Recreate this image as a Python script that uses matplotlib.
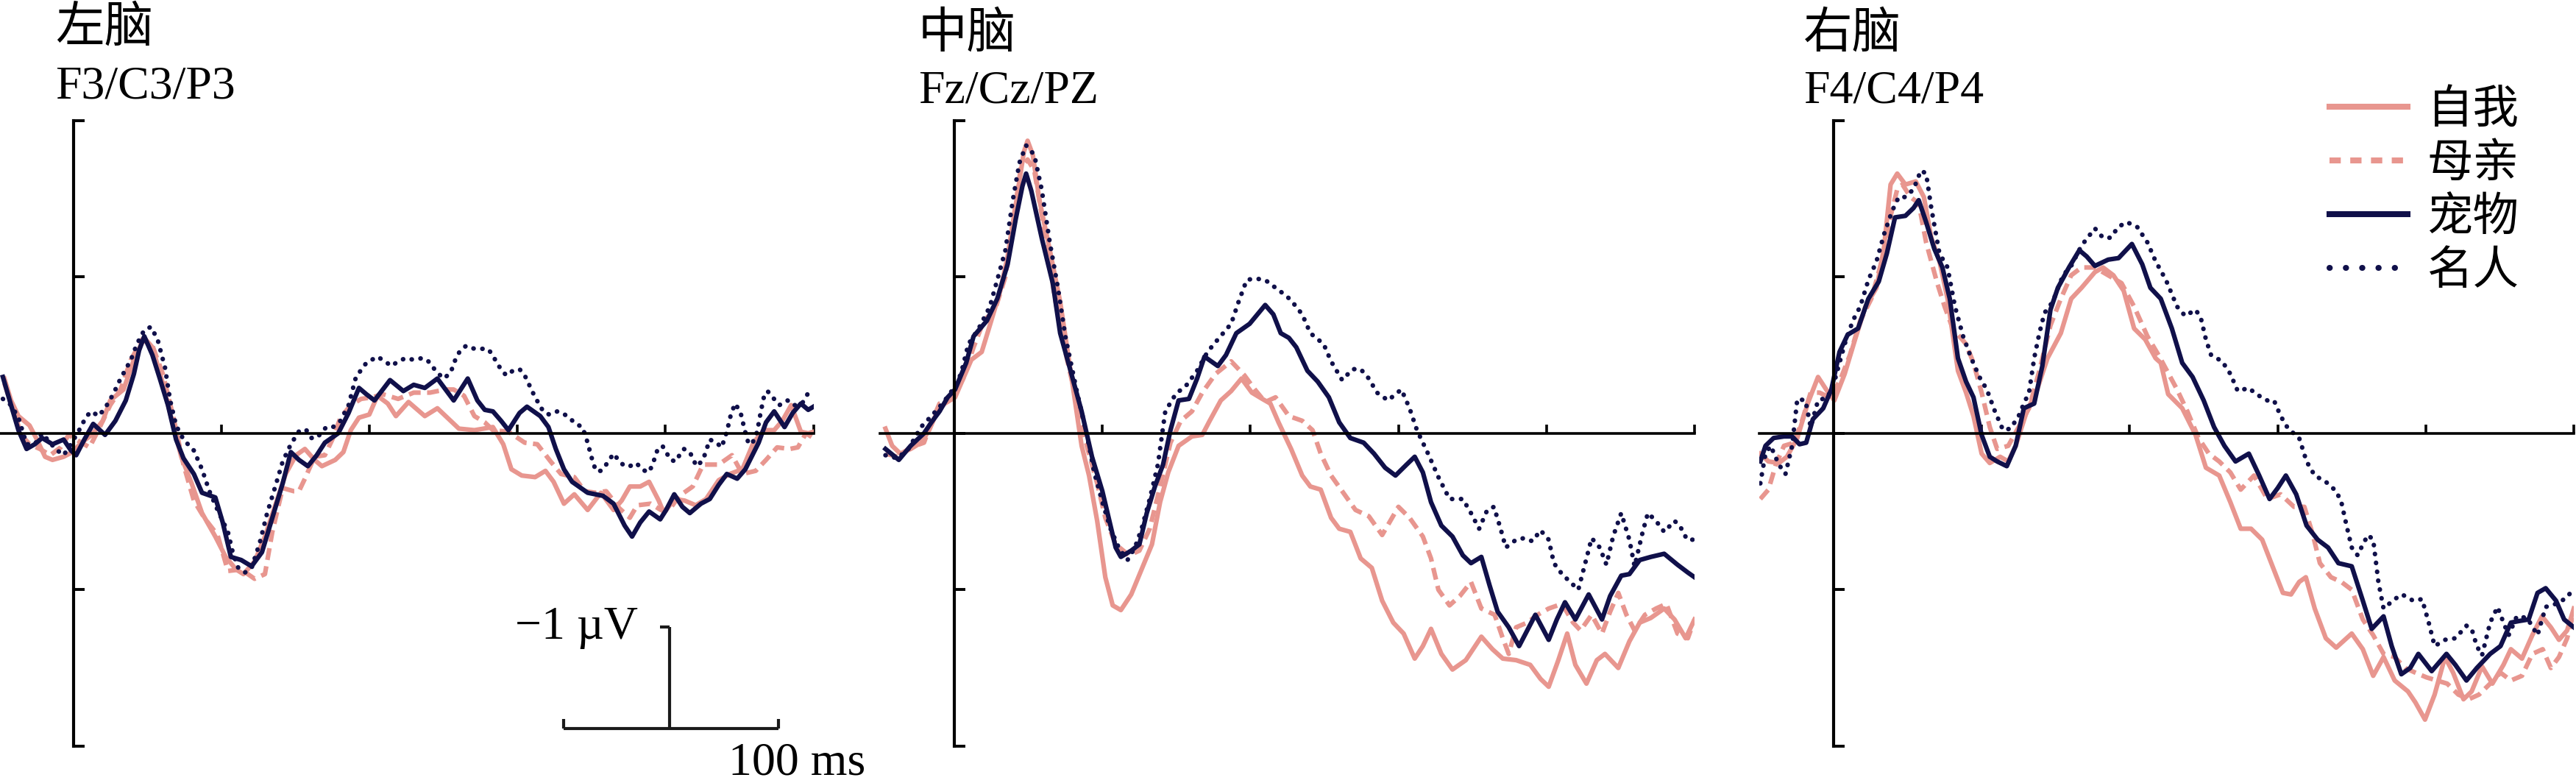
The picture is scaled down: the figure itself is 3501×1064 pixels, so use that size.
import matplotlib.pyplot as plt
from matplotlib.lines import Line2D

plt.rcParams['font.family'] = ['Liberation Serif', 'Noto Sans CJK SC']

# --- ERP waveforms (time in ms, amplitude in axis-tick units)
conditions = ["自我", "母亲", "宠物", "名人"]
regions = ["左脑", "中脑", "右脑"]
electrodes = ["F3/C3/P3", "Fz/Cz/PZ", "F4/C4/P4"]
x_ticks = [200, 400, 600, 800, 1000]
y_ticks = [-2, -1, 0, 1, 2]

# left hemisphere
left_self_t = [-93, -84, -74, -59, -49, -38, -28, -13, -1, 11, 25, 40, 50, 68, 82, 96, 107, 121, 135, 146,
               160, 174, 192, 206, 220, 230, 245, 259, 273, 287, 301, 313, 326, 336, 354, 365, 375, 386, 400, 411,
               425, 436, 453, 475, 492, 521, 542, 567, 581, 592, 606, 624, 638, 649, 663, 677, 695, 713, 730, 741,
               752, 766, 778, 791, 798, 812, 826, 841, 855, 872, 887, 904, 919, 933, 947, 958, 970, 983, 993, 1000]
left_self_v = [0.35, 0.21, 0.11, 0.05, -0.04, -0.15, -0.17, -0.15, -0.12, -0.06, -0.01, 0.08, 0.21, 0.28, 0.47, 0.61, 0.55, 0.32, 0.05, -0.15,
               -0.32, -0.51, -0.66, -0.79, -0.87, -0.90, -0.82, -0.66, -0.46, -0.26, -0.14, -0.10, -0.17, -0.21, -0.17, -0.12, 0.02, 0.10, 0.12, 0.24,
               0.19, 0.11, 0.20, 0.11, 0.16, 0.03, 0.02, 0.04, -0.07, -0.23, -0.27, -0.28, -0.24, -0.31, -0.45, -0.39, -0.49, -0.38, -0.49, -0.43,
               -0.34, -0.34, -0.31, -0.43, -0.51, -0.42, -0.43, -0.46, -0.42, -0.30, -0.26, -0.23, -0.06, 0.02, 0.02, 0.08, 0.18, 0.01, 0.00, 0.01]
left_mother_t = [-93, -84, -70, -59, -45, -31, -17, -6, 4, 22, 36, 50, 64, 78, 93, 107, 121, 135, 149, 163,
                 177, 195, 209, 227, 245, 259, 269, 283, 298, 305, 313, 326, 340, 351, 361, 375, 389, 404, 418, 439,
                 460, 482, 503, 514, 528, 542, 556, 567, 588, 610, 627, 645, 659, 677, 691, 706, 720, 738, 752, 762,
                 780, 794, 805, 819, 837, 851, 872, 890, 904, 922, 936, 951, 968, 979, 990, 1000]
left_mother_v = [0.32, 0.19, -0.01, -0.07, -0.10, -0.14, -0.09, -0.01, -0.04, -0.09, 0.04, 0.18, 0.28, 0.47, 0.60, 0.56, 0.38, 0.11, -0.20, -0.43,
                 -0.54, -0.65, -0.88, -0.87, -0.93, -0.90, -0.63, -0.35, -0.37, -0.37, -0.29, -0.15, -0.14, -0.03, 0.10, 0.18, 0.22, 0.23, 0.25, 0.22,
                 0.26, 0.26, 0.28, 0.28, 0.24, 0.11, 0.07, 0.02, 0.01, -0.06, -0.07, -0.18, -0.26, -0.28, -0.37, -0.38, -0.37, -0.48, -0.54, -0.46,
                 -0.45, -0.49, -0.49, -0.40, -0.34, -0.20, -0.20, -0.14, -0.26, -0.24, -0.17, -0.09, -0.10, -0.09, 0.00, -0.03]
left_pet_t = [-95, -84, -74, -63, -52, -42, -28, -13, -3, 4, 15, 27, 43, 57, 71, 82, 89, 96, 107, 117,
              128, 139, 149, 163, 174, 192, 202, 213, 227, 241, 255, 269, 283, 294, 305, 317, 329, 340, 358, 372,
              386, 396, 407, 428, 446, 460, 475, 492, 514, 533, 546, 556, 567, 578, 588, 603, 613, 631, 642, 652,
              663, 674, 695, 716, 730, 745, 755, 766, 778, 793, 801, 812, 823, 833, 848, 860, 872, 883, 897, 908,
              926, 936, 947, 961, 972, 983, 993, 1000]
left_pet_v = [0.36, 0.18, 0.02, -0.10, -0.07, -0.03, -0.07, -0.04, -0.11, -0.14, -0.04, 0.06, -0.01, 0.08, 0.21, 0.38, 0.53, 0.62, 0.50, 0.35,
              0.18, -0.04, -0.16, -0.26, -0.38, -0.41, -0.57, -0.79, -0.81, -0.85, -0.76, -0.54, -0.32, -0.12, -0.17, -0.21, -0.14, -0.06, 0.00, 0.13,
              0.29, 0.25, 0.21, 0.34, 0.27, 0.31, 0.29, 0.35, 0.21, 0.35, 0.21, 0.15, 0.14, 0.08, 0.02, 0.13, 0.17, 0.11, 0.04, -0.10,
              -0.23, -0.31, -0.38, -0.40, -0.45, -0.59, -0.66, -0.57, -0.50, -0.55, -0.49, -0.39, -0.47, -0.51, -0.45, -0.42, -0.33, -0.26, -0.29, -0.23,
              -0.06, 0.07, 0.14, 0.04, 0.13, 0.19, 0.15, 0.17]
left_celeb_t = [-95, -84, -74, -63, -52, -42, -24, -13, -3, 8, 18, 25, 34, 43, 54, 64, 78, 86, 96, 105,
                114, 124, 131, 139, 149, 163, 174, 184, 195, 209, 216, 223, 232, 241, 252, 262, 273, 283, 294, 306,
                315, 322, 329, 342, 351, 361, 372, 382, 396, 411, 421, 430, 439, 449,
                460, 471, 478, 485, 491, 501, 510, 517, 523, 531, 542, 560, 567, 572, 578, 585, 594, 603, 610, 615,
                620, 624, 629, 635, 643, 654, 661, 670, 679, 688, 695, 700, 706, 713, 720, 730, 738, 745, 752, 761,
                768, 777, 782, 789, 796, 801, 807, 814, 819, 825, 833, 837, 842, 849, 853, 860, 869, 876, 883, 888,
                894, 901, 904, 906, 912, 917, 924, 929, 933, 938, 945, 954, 965, 972, 981, 986, 992, 995]
left_celeb_v = [0.22, 0.18, 0.10, -0.07, -0.07, 0.00, -0.10, -0.14, -0.07, 0.02, 0.11, 0.14, 0.11, 0.16, 0.25, 0.35, 0.47, 0.57, 0.66, 0.68,
                0.60, 0.42, 0.21, 0.05, -0.04, -0.11, -0.23, -0.37, -0.49, -0.63, -0.77, -0.86, -0.89, -0.86, -0.70, -0.51, -0.34, -0.18, -0.07, 0.02,
                0.02, -0.03, -0.03, 0.04, 0.04, 0.08, 0.18, 0.36, 0.45, 0.49, 0.46, 0.43, 0.46, 0.48,
                0.47, 0.48, 0.47, 0.43, 0.39, 0.35, 0.39, 0.48, 0.53, 0.56, 0.54, 0.54, 0.50, 0.45, 0.41, 0.37, 0.40, 0.41, 0.37, 0.32,
                0.27, 0.23, 0.19, 0.14, 0.12, 0.14, 0.13, 0.10, 0.06, 0.04, -0.06, -0.15, -0.24, -0.24, -0.20, -0.13, -0.18, -0.21, -0.21, -0.19,
                -0.23, -0.25, -0.21, -0.11, -0.08, -0.12, -0.17, -0.18, -0.14, -0.10, -0.12, -0.16, -0.21, -0.18, -0.14, -0.04, -0.06, -0.09, 0.01, 0.11,
                0.19, 0.14, 0.09, 0.04, -0.06, -0.07, 0.01, 0.14, 0.23, 0.27, 0.23, 0.18, 0.21, 0.18, 0.18, 0.20, 0.25, 0.29]

# midline
mid_self_t = [-93, -84, -73, -59, -45, -34, -23, -13, 1, 12, 23, 37, 48, 62, 72, 83, 94, 99, 106, 115,
              129, 143, 157, 172, 182, 193, 204, 214, 225, 239, 253, 267, 278, 289, 303, 321, 335, 345, 360, 374,
              388, 402, 416, 427, 438,
              455, 470, 481, 495, 509, 520, 535, 549, 564, 578, 593, 607, 622, 633, 644, 658, 673, 691, 712, 727,
              741, 759, 778, 792, 803, 816, 828, 839, 854, 868, 879, 897, 912, 926, 941, 959, 973, 988, 1000]
mid_self_v = [0.03, -0.08, -0.13, -0.10, -0.06, 0.02, 0.14, 0.19, 0.23, 0.35, 0.47, 0.52, 0.69, 0.91, 1.13, 1.46, 1.80, 1.87, 1.78, 1.49,
              1.17, 0.84, 0.40, -0.08, -0.27, -0.56, -0.92, -1.10, -1.13, -1.03, -0.87, -0.71, -0.44, -0.25, -0.08, -0.02, -0.01, 0.08, 0.21, 0.27,
              0.35, 0.26, 0.22, 0.19, 0.07,
              -0.10, -0.27, -0.34, -0.36, -0.54, -0.61, -0.63, -0.80, -0.86, -1.07, -1.21, -1.28, -1.44, -1.36, -1.25, -1.41, -1.51, -1.45, -1.30, -1.38,
              -1.44, -1.45, -1.48, -1.57, -1.62, -1.45, -1.28, -1.48, -1.60, -1.45, -1.41, -1.50, -1.33, -1.21, -1.18, -1.12, -1.19, -1.31, -1.19]
mid_mother_t = [-93, -77, -59, -41, -31, -20, -2, 12, 26, 40, 55, 69, 79, 90, 99, 108, 122, 136, 150, 165,
                179, 193, 204, 218, 236, 250, 264, 278, 292, 306, 321, 335, 353, 374, 392, 406, 420, 434,
                452, 470, 484, 495, 509, 524, 542, 560, 578, 589, 600, 615, 633, 644, 654, 669, 683, 698, 712, 730,
                741, 749, 759, 774, 788, 803, 821, 836, 846, 861, 875, 886, 897, 908, 919, 933, 948, 962, 977, 991, 1000]
mid_mother_v = [-0.13, -0.15, -0.09, -0.06, 0.07, 0.19, 0.23, 0.35, 0.55, 0.72, 0.79, 1.00, 1.34, 1.70, 1.75, 1.68, 1.29, 0.86, 0.52, 0.21,
                -0.08, -0.32, -0.54, -0.71, -0.78, -0.75, -0.61, -0.34, -0.06, 0.08, 0.14, 0.26, 0.38, 0.46, 0.37, 0.28, 0.20, 0.23,
                0.11, 0.08, 0.02, -0.13, -0.27, -0.37, -0.49, -0.53, -0.65, -0.56, -0.47, -0.54, -0.66, -0.80, -1.00, -1.10, -1.04, -0.95, -1.12, -1.16,
                -1.31, -1.41, -1.24, -1.21, -1.16, -1.12, -1.09, -1.21, -1.26, -1.16, -1.28, -1.14, -1.02, -1.16, -1.26, -1.16, -1.12, -1.09, -1.28, -1.31, -1.19]
mid_pet_t = [-93, -75, -59, -41, -31, -20, -9, 1, 16, 26, 44, 58, 72, 83, 92, 97, 104, 118, 133, 143,
             157, 172, 186, 200, 211, 218, 225, 239, 250, 260, 271, 282, 292, 303, 317, 328, 338, 356, 367, 381,
             399, 420, 431, 441,
             452, 462, 477, 491, 506, 520, 535, 553, 567, 582, 596, 611, 622, 633, 644, 658, 673, 687, 698, 712,
             723, 734, 749, 763, 774, 785, 803, 814, 825, 839, 857, 875, 886, 901, 912, 926, 941, 959, 977, 991, 1000]
mid_pet_v = [-0.10, -0.17, -0.08, 0.00, 0.07, 0.14, 0.23, 0.28, 0.45, 0.62, 0.72, 0.86, 1.08, 1.37, 1.58, 1.66, 1.55, 1.25, 0.96, 0.64,
             0.40, 0.14, -0.15, -0.37, -0.59, -0.73, -0.79, -0.75, -0.71, -0.51, -0.34, -0.20, 0.02, 0.21, 0.22, 0.35, 0.49, 0.43, 0.50, 0.64,
             0.70, 0.82, 0.76, 0.64,
             0.61, 0.55, 0.40, 0.33, 0.23, 0.07, -0.03, -0.06, -0.13, -0.22, -0.27, -0.20, -0.15, -0.25, -0.44, -0.59, -0.66, -0.78, -0.83, -0.79,
             -0.97, -1.14, -1.24, -1.36, -1.26, -1.16, -1.32, -1.19, -1.08, -1.19, -1.03, -1.19, -1.04, -0.91, -0.90, -0.81, -0.79, -0.77, -0.84, -0.89, -0.92]
mid_celeb_t = [-93, -77, -62, -45, -31, -16, -2, 9, 19, 33, 48, 58, 69, 79, 88, 97, 108, 118, 129, 140,
               150, 165, 179, 189, 200, 211, 223, 234, 244, 253, 264, 275, 285, 299, 314, 328, 342, 356, 374, 384,
               395, 406, 420, 434, 448,
               455, 470, 481, 499, 509, 524, 538, 549, 560, 571, 586, 596, 604, 615, 625, 640, 654, 669, 687, 698,
               709, 720, 729, 738, 745, 759, 770, 781, 792, 803, 810, 821, 832, 843, 854, 861, 872, 881, 890, 901,
               912, 919, 930, 937, 948, 959, 973, 980, 990, 1000]
mid_celeb_v = [-0.14, -0.16, -0.10, 0.04, 0.11, 0.19, 0.28, 0.38, 0.57, 0.67, 0.81, 0.98, 1.17, 1.49, 1.73, 1.84, 1.78, 1.56, 1.22, 0.93,
               0.62, 0.28, -0.01, -0.25, -0.44, -0.61, -0.74, -0.81, -0.73, -0.61, -0.42, -0.20, 0.14, 0.25, 0.31, 0.40, 0.52, 0.60, 0.70, 0.84,
               0.98, 0.99, 0.98, 0.93, 0.88,
               0.85, 0.76, 0.64, 0.57, 0.46, 0.34, 0.41, 0.41, 0.35, 0.26, 0.21, 0.25, 0.28, 0.16, 0.02, -0.13, -0.28, -0.42, -0.42, -0.51,
               -0.61, -0.49, -0.47, -0.61, -0.73, -0.68, -0.67, -0.69, -0.62, -0.68, -0.83, -0.90, -0.95, -1.00, -0.80, -0.67, -0.73, -0.84, -0.66, -0.51,
               -0.68, -0.85, -0.63, -0.51, -0.56, -0.63, -0.56, -0.59, -0.68, -0.68]

# right hemisphere
right_self_t = [-99, -88, -74, -63, -49, -35, -21, -10, 1, 15, 29, 43, 58, 68, 77, 86, 97, 111, 122, 132,
                143, 154, 168, 179, 189, 200, 211, 225, 236, 246, 261, 275, 289, 307, 321, 335, 353, 364, 378, 392,
                406, 421, 435, 442, 452, 471, 489, 503, 521, 536, 550, 564, 579, 593, 607, 618, 629, 638, 650, 665,
                679, 693, 700, 715, 729, 743, 758, 776, 786, 799, 812, 826, 837, 851, 862, 876, 890, 905, 915, 930,
                944, 957, 969, 980, 991, 1000]
right_self_v = [-0.13, -0.18, -0.19, -0.15, -0.03, 0.19, 0.36, 0.28, 0.21, 0.38, 0.60, 0.81, 0.93, 1.18, 1.59, 1.66, 1.59, 1.61, 1.51, 1.25,
                1.10, 0.86, 0.40, 0.26, 0.11, -0.13, -0.19, -0.15, -0.18, -0.08, 0.14, 0.28, 0.48, 0.64, 0.86, 0.93, 1.03, 1.06, 1.01, 0.91,
                0.67, 0.60, 0.48, 0.45, 0.25, 0.16, -0.01, -0.22, -0.27, -0.44, -0.61, -0.61, -0.68, -0.85, -1.02, -1.03, -0.95, -0.92, -1.12, -1.31,
                -1.37, -1.31, -1.28, -1.38, -1.55, -1.43, -1.58, -1.65, -1.72, -1.83, -1.67, -1.43, -1.53, -1.70, -1.65, -1.49, -1.60, -1.48, -1.38, -1.44,
                -1.29, -1.17, -1.24, -1.32, -1.26, -1.12]
right_mother_t = [-99, -88, -78, -67, -53, -42, -31, -19, -6, 8, 22, 36, 51, 65, 75, 86, 93, 104, 115, 125,
                  140, 150, 161, 179, 189, 200, 211, 221, 236, 250, 264, 278, 293, 307, 321, 335, 353, 371, 389, 406,
                  424, 439, 464, 478, 493, 507, 521, 536, 550, 568, 586, 604, 622, 636, 647, 657, 672, 686, 700, 715,
                  729, 743, 758, 772, 786, 801, 815, 829, 844, 858, 872, 887, 901, 915, 930, 944, 958, 969, 980, 991, 1000]
right_mother_v = [-0.42, -0.36, -0.20, -0.08, -0.06, 0.09, 0.26, 0.26, 0.23, 0.33, 0.50, 0.72, 0.86, 1.10, 1.35, 1.56, 1.59, 1.51, 1.47, 1.22,
                  0.96, 0.81, 0.67, 0.57, 0.45, 0.26, 0.04, -0.10, -0.08, 0.04, 0.16, 0.40, 0.69, 0.86, 1.01, 1.06, 1.06, 1.01, 0.96, 0.81,
                  0.62, 0.50, 0.28, 0.14, -0.03, -0.13, -0.18, -0.25, -0.36, -0.27, -0.42, -0.39, -0.47, -0.47, -0.64, -0.83, -0.92, -0.95, -1.00, -1.19,
                  -1.29, -1.41, -1.43, -1.50, -1.53, -1.56, -1.58, -1.60, -1.67, -1.70, -1.67, -1.60, -1.53, -1.58, -1.55, -1.41, -1.38, -1.50, -1.43, -1.31, -1.14]
right_pet_t = [-99, -92, -81, -67, -56, -46, -37, -28, -14, -3, 8, 19, 33, 47, 61, 72, 83, 97, 108, 115,
               125, 136, 147, 157, 168, 179, 189, 200, 211, 221, 234, 246, 257, 271, 282, 293, 303, 318, 332, 342,
               353, 371, 385, 403, 417, 428, 442,
               457, 471, 485, 500, 514, 528, 543, 561, 575, 589, 600, 611, 625, 639, 654, 668, 682, 700, 715, 727,
               743, 754, 767, 779, 790, 808, 828, 840, 855, 869, 887, 901, 915, 926, 939, 951, 962, 976, 987, 1000]
right_pet_v = [-0.18, -0.08, -0.03, -0.02, -0.02, -0.07, -0.06, 0.09, 0.16, 0.28, 0.52, 0.63, 0.67, 0.86, 0.97, 1.15, 1.38, 1.39, 1.44, 1.49,
               1.35, 1.18, 1.06, 0.86, 0.48, 0.33, 0.23, -0.01, -0.15, -0.18, -0.21, -0.08, 0.16, 0.19, 0.43, 0.79, 0.93, 1.06, 1.17, 1.13,
               1.07, 1.11, 1.12, 1.21, 1.08, 0.93, 0.86,
               0.67, 0.45, 0.36, 0.21, 0.04, -0.08, -0.18, -0.13, -0.27, -0.42, -0.35, -0.27, -0.39, -0.59, -0.68, -0.73, -0.83, -0.85, -1.07, -1.25,
               -1.17, -1.36, -1.54, -1.50, -1.41, -1.52, -1.41, -1.48, -1.58, -1.50, -1.41, -1.36, -1.21, -1.20, -1.19, -1.02, -0.99, -1.07, -1.19, -1.24]
right_celeb_t = [-99, -92, -85, -74, -65, -56, -49, -38, -31, -21, -8, 1, 15, 26, 36, 47, 58, 68, 79, 88,
                 97, 108, 118, 125, 132, 143, 154, 164, 175, 186, 197, 207, 218, 229, 239, 250, 257, 264, 271, 278,
                 285, 296, 310, 321, 335, 353, 364, 374, 385, 396, 410, 424, 435, 449,
                 464, 475, 489, 496, 503, 510, 525, 536, 546, 561, 571, 586, 595, 604, 614, 629, 639, 650, 665, 679,
                 686, 693, 700, 708, 715, 722, 729, 736, 743, 758, 768, 783, 795, 804, 812, 826, 840, 855, 862, 869,
                 876, 887, 897, 905, 912, 923, 937, 951, 962, 976, 991, 998]
right_celeb_v = [-0.32, -0.13, -0.08, -0.20, -0.26, -0.08, 0.22, 0.21, 0.04, 0.21, 0.23, 0.33, 0.57, 0.72, 0.81, 0.98, 1.10, 1.27, 1.42, 1.51,
                 1.51, 1.56, 1.68, 1.66, 1.44, 1.15, 1.06, 0.81, 0.62, 0.48, 0.36, 0.28, 0.14, 0.02, 0.03, 0.11, 0.19, 0.26, 0.48, 0.64,
                 0.77, 0.84, 1.01, 1.07, 1.20, 1.31, 1.25, 1.25, 1.32, 1.35, 1.32, 1.22, 1.10, 0.98,
                 0.81, 0.75, 0.79, 0.74, 0.60, 0.50, 0.46, 0.38, 0.27, 0.29, 0.25, 0.21, 0.21, 0.11, 0.03, -0.03, -0.18, -0.27, -0.31, -0.37,
                 -0.44, -0.59, -0.73, -0.78, -0.71, -0.65, -0.68, -0.95, -1.12, -1.06, -1.03, -1.07, -1.06, -1.21, -1.36, -1.32, -1.31, -1.23, -1.25, -1.36,
                 -1.42, -1.21, -1.11, -1.21, -1.29, -1.17, -1.18, -1.29, -1.11, -1.09, -1.05, -1.00]

PINK = "#E8968F"
NAVY = "#10104A"
line_styles = [
    dict(color=PINK, linestyle="-"),
    dict(color=PINK, linestyle=(0, (2.6, 1.4))),
    dict(color=NAVY, linestyle="-"),
    dict(color=NAVY, linestyle=(0, (0.05, 1.9)), dash_capstyle="round"),
]
# legend keys are drawn a bit heavier than the curves in the original
legend_styles = [
    dict(color=PINK, linestyle="-"),
    dict(color=PINK, linestyle=(0, (1.9, 1.6))),
    dict(color=NAVY, linestyle="-"),
    dict(color=NAVY, linestyle=(0, (0.05, 2.7)), dash_capstyle="round"),
]

panels = [
    [(left_self_t, left_self_v), (left_mother_t, left_mother_v), (left_pet_t, left_pet_v), (left_celeb_t, left_celeb_v)],
    [(mid_self_t, mid_self_v), (mid_mother_t, mid_mother_v), (mid_pet_t, mid_pet_v), (mid_celeb_t, mid_celeb_v)],
    [(right_self_t, right_self_v), (right_mother_t, right_mother_v), (right_pet_t, right_pet_v), (right_celeb_t, right_celeb_v)],
]

W, H = 3501, 1064
fig = plt.figure(figsize=(W / 100, H / 100), dpi=100)

px_per_ms = 1.006
zero_px = [99.5, 1297, 2492]          # x pixel of t = 0 in each panel
title_px = [(75, 57, 133), (1248, 65, 140), (2451, 65, 140)]
ax_bottom, ax_height = 50, 850.4

axes = []
for i, series in enumerate(panels):
    left = zero_px[i] - 100 * px_per_ms
    ax = fig.add_axes([left / W, ax_bottom / H, 1100 * px_per_ms / W, ax_height / H])
    ax.patch.set_visible(False)
    for (t, v), st in zip(series, line_styles):
        assert len(t) == len(v)
        ax.plot(t, v, lw=4.5, solid_joinstyle="round", **st)
    ax.set_xlim(-100, 1000)
    ax.set_ylim(-2, 2)
    ax.spines["top"].set_visible(False)
    ax.spines["right"].set_visible(False)
    ax.spines["left"].set_position(("data", 0))
    ax.spines["bottom"].set_position(("data", 0))
    ax.spines["left"].set_linewidth(3.0)
    ax.spines["bottom"].set_linewidth(2.6)
    ax.set_xticks(x_ticks)
    ax.set_yticks(y_ticks)
    ax.tick_params(axis="x", direction="in", length=9, width=2.6, labelbottom=False)
    ax.tick_params(axis="y", direction="in", length=11, width=2.8, labelleft=False)

    tx, ty_cn, ty_en = title_px[i]
    fig.text(tx / W, 1 - ty_cn / H, regions[i], fontsize=48, va="baseline")
    fig.text(tx / W, 1 - ty_en / H, electrodes[i], fontsize=46, va="baseline")
    axes.append(ax)

# scale bar (-1 uV / 100 ms) in the left panel
ax = axes[0]
bar_kw = dict(color="#1a1a1a", lw=3.0, clip_on=False, solid_capstyle="butt")
ax.plot([663, 953], [-1.887, -1.887], **bar_kw)
ax.plot([663, 663], [-1.887, -1.826], **bar_kw)
ax.plot([953, 953], [-1.887, -1.826], **bar_kw)
ax.plot([805.6, 805.6], [-1.887, -1.238], **bar_kw)
ax.plot([792.6, 805.6], [-1.238, -1.238], **bar_kw)
ax.text(597, -1.313, "\u22121 \u00b5V", fontsize=46, va="baseline", ha="left")
ax.text(885, -2.18, "100 ms", fontsize=46, va="baseline", ha="left", clip_on=False)

# legend in the right panel
handles = [Line2D([], [], lw=5.8, **st) for st in legend_styles]
axes[2].legend(handles, conditions, loc="upper left",
               bbox_to_anchor=(3166 / W, 1 - 123 / H), bbox_transform=fig.transFigure,
               frameon=False, fontsize=45, handlelength=1.7, handletextpad=0.42,
               labelspacing=0.24, borderpad=0, borderaxespad=0)

fig.savefig("out.png", dpi=100)
